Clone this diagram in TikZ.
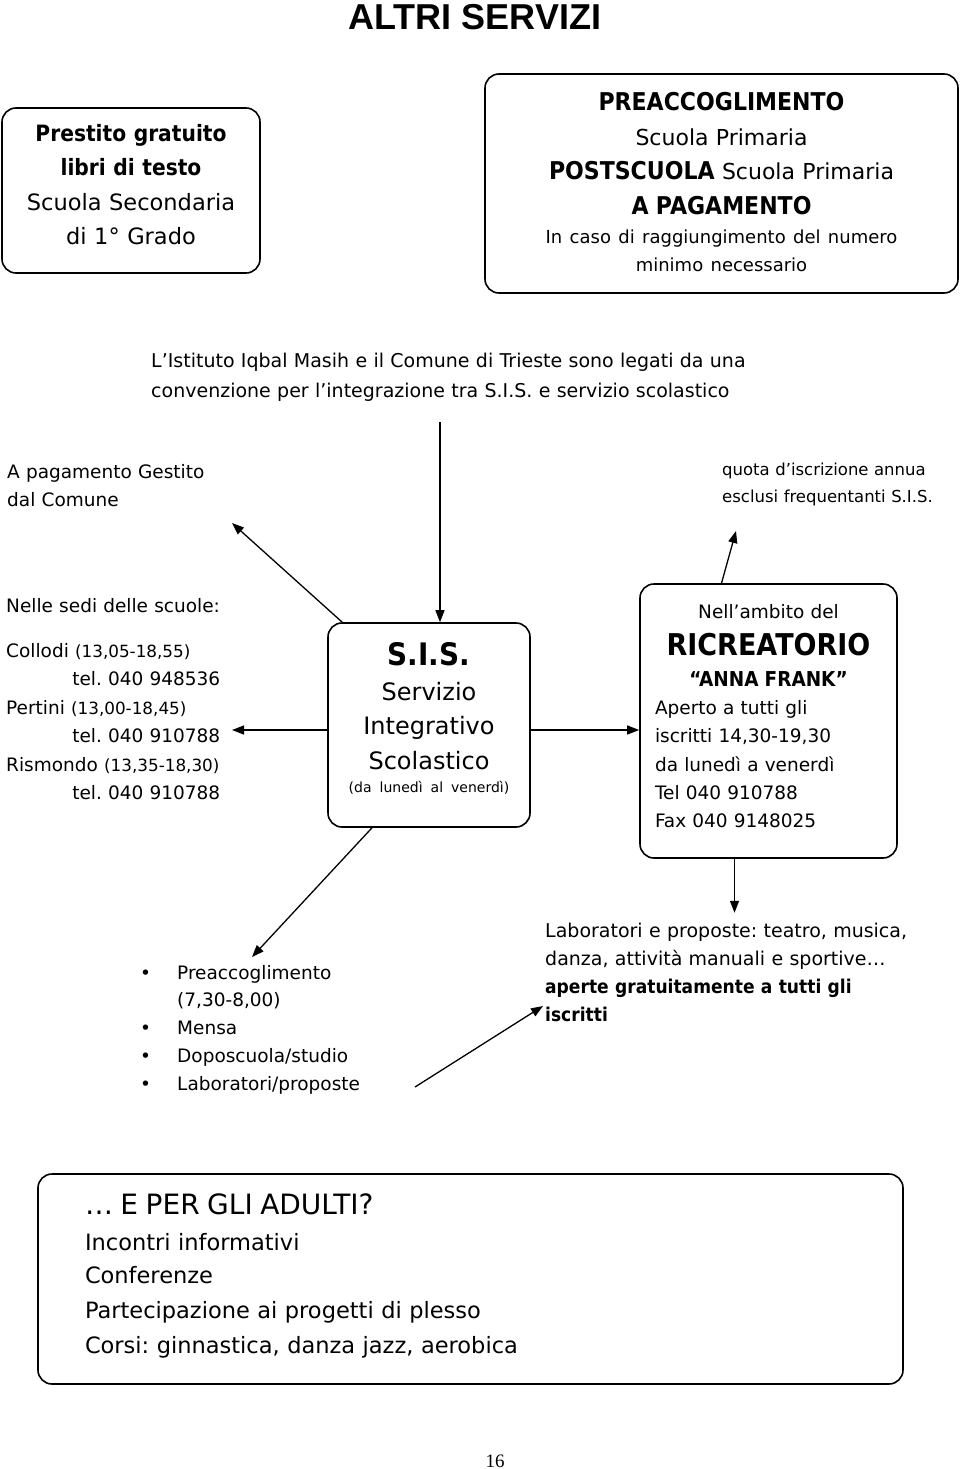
\documentclass[tikz,border=0pt]{standalone}
\usepackage{fontspec}
\setmainfont{DejaVu Sans}[BoldFeatures={FakeStretch=0.9}]
\newfontfamily\titlefont{Liberation Sans}
\newfontfamily\pagefont{Liberation Serif}
\usetikzlibrary{shapes,arrows.meta,calc}
\newcommand\fsz[2]{\fontsize{#1}{#2}\selectfont}
\newcommand\orario[1]{{\fsz{16.8}{16.8}(#1)}}
\newcommand\lowfoot[1]{\rule[-#1]{0pt}{0pt}}
\frenchspacing

\begin{document}
\begin{tikzpicture}[%
    x=1pt, y=-1pt,              % one unit is one pixel of the page, going down
    >={Triangle[length=12pt,width=9pt]}, % Filled arrow heads
    ]
% -------------------------------------------------
% Box and text styles
\tikzset{
  box/.style={draw, line width=1.6pt, rectangle, rounded corners=14pt},
  txt/.style={inner sep=0pt, align=left},
  conn/.style={->, draw, line width=1.3pt},
  title/.style={inner sep=0pt, font={\titlefont\bfseries\fsz{36}{36}}}
}
\useasboundingbox (0,0) rectangle (960,1469);
% -------------------------------------------------
% Top row
\node [title, anchor=base] (head) at (475,30) {ALTRI SERVIZI};

\node [box, minimum width=258pt, minimum height=165pt, text width=236pt,
  align=center, font=\fsz{22.5}{34.5}] (libri) at (131,190.5)
  {{\bfseries Prestito gratuito}\\ {\bfseries libri di testo}\\
   Scuola Secondaria\\ di 1° Grado\lowfoot{12pt}};

\node [box, minimum width=473pt, minimum height=219pt, text width=450pt,
  align=center, font=\fsz{22}{34.5}] (pre) at (721.5,183.5)
  {{\bfseries\fsz{24.5}{34.5}PREACCOGLIMENTO}\\ Scuola Primaria\\
   {\bfseries\fsz{24.5}{34.5}POSTSCUOLA} Scuola Primaria\\
   {\bfseries\fsz{24.5}{34.5}A PAGAMENTO}\\[-5pt]
   {\fsz{18}{28}In caso di raggiungimento del numero}\\[-6.5pt]
   {\fsz{18}{28}minimo necessario}\lowfoot{3pt}};

\node [txt, anchor=base west, text width=640pt, font=\fsz{19}{30}] (conv)
  at (151,367)
  {L’Istituto Iqbal Masih e il Comune di Trieste sono legati da una\\
   convenzione per l’integrazione tra S.I.S. e servizio scolastico};

\node [txt, anchor=base west, text width=220pt, font=\fsz{18.5}{28}] (pag)
  at (7,478) {A pagamento Gestito\\ dal Comune};
\node [txt, anchor=base west, text width=230pt, font=\fsz{16.5}{27}] (quota)
  at (722,475) {quota d’iscrizione annua\\ esclusi frequentanti S.I.S.};

% -------------------------------------------------
% Middle row
\node [box, minimum width=202pt, minimum height=204pt, text width=190pt,
  align=center, font=\fsz{24}{34.5}] (sis) at (429,725)
  {{\bfseries\fsz{31}{34.5}S.I.S.}\\[0.5pt] Servizio\\ Integrativo\\
   Scolastico\\[-11pt] {\fsz{14}{14}(da lunedì al venerdì)}\lowfoot{15pt}};

\node [txt, anchor=base west, text width=214pt, font=\fsz{18.5}{28.5}] (sedi)
  at (6,612)
  {Nelle sedi delle scuole:\\[16.5pt]
   Collodi \orario{13,05-18,55}\\ \hspace*{\fill}tel. 040 948536\\
   Pertini \orario{13,00-18,45}\\ \hspace*{\fill}tel. 040 910788\\
   Rismondo \orario{13,35-18,30}\\ \hspace*{\fill}tel. 040 910788};

\node [box, minimum width=257pt, minimum height=274pt, text width=227pt,
  align=left, font=\fsz{18.5}{28.3}] (ricre) at (768.5,721)
  {\makebox[\linewidth]{Nell’ambito del}\\[8.7pt]
   \makebox[\linewidth]{\bfseries\fsz{30}{30}RICREATORIO}\\[2.7pt]
   \makebox[\linewidth]{\bfseries\fsz{20.5}{20.5}“ANNA FRANK”}\\
   Aperto a tutti gli\\ iscritti 14,30-19,30\\ da lunedì a venerdì\\
   Tel 040 910788\\ Fax 040 9148025\lowfoot{10pt}};

% -------------------------------------------------
% Lower row
\node [txt, anchor=base west, text width=260pt, font=\fsz{18.5}{27.8}] (list)
  at (140,979)
  {\makebox[37pt][l]{•}Preaccoglimento\\ \hspace*{37pt}(7,30-8,00)\\
   \makebox[37pt][l]{•}Mensa\\ \makebox[37pt][l]{•}Doposcuola/studio\\
   \makebox[37pt][l]{•}Laboratori/proposte};

\node [txt, anchor=base west, text width=390pt, font=\fsz{19}{28.3}] (lab)
  at (545,937)
  {Laboratori e proposte: teatro, musica,\\
   danza, attività manuali e sportive…\\
   {\bfseries aperte gratuitamente a tutti gli}\\ {\bfseries iscritti}};

\node [box, minimum width=865pt, minimum height=210pt, text width=771pt,
  align=left, font=\fsz{22.5}{35}] (adulti) at (470.5,1279)
  {{\fsz{28}{35}… E PER GLI ADULTI?}\\[1pt] Incontri informativi\\[-2pt]
   Conferenze\\ Partecipazione ai progetti di plesso\\
   Corsi: ginnastica, danza jazz, aerobica\lowfoot{11pt}};

\node [anchor=base, inner sep=0pt, font={\pagefont\fsz{19}{19}}] (pagina)
  at (495,1467) {16};

% -------------------------------------------------
% Connectors
\coordinate (convfoot) at (440,422);
\coordinate (pagtip)   at (232,523);
\coordinate (quotatip) at (736,531);
\coordinate (seditip)  at (232,730);
\coordinate (listtip)  at (252,957);
\coordinate (labfoot)  at (415,1087);
\coordinate (labtip)   at (543,1006);

\draw [conn] (convfoot) -- (convfoot |- sis.north);
\draw [conn] ([xshift=15pt]sis.north west) -- (pagtip);
\draw [conn] (sis.west |- seditip) -- (seditip);
\draw [conn] (sis.east |- seditip) -- (ricre.west |- seditip);
\draw [conn] ([xshift=-47pt]ricre.north) -- (quotatip);
\draw [conn] ([xshift=-57pt]sis.south) -- (listtip);
\draw [conn] ([xshift=-34pt]ricre.south) -- ++(0,54);
\draw [conn] (labfoot) -- (labtip);
% -------------------------------------------------
\end{tikzpicture}
\end{document}
